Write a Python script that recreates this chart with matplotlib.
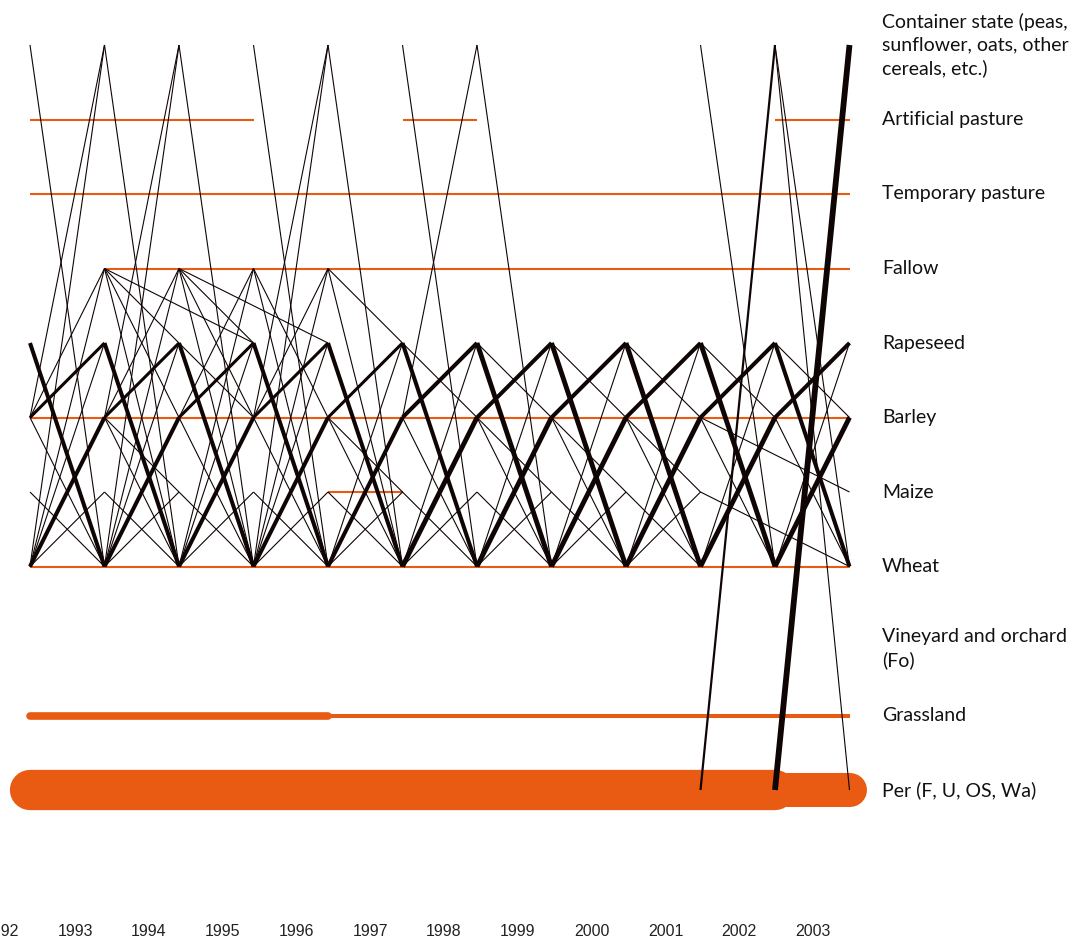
import matplotlib
matplotlib.use("Agg")
import matplotlib.pyplot as plt

# crop states, bottom to top
STATES = ["Per", "Gra", "Vin", "Whe", "Mai", "Bar", "Rap", "Fal", "Tem", "Art", "Con"]
STATE_LABELS = ["Per (F, U, OS, Wa)", "Grassland", "Vineyard and orchard\n(Fo)", "Wheat",
                "Maize", "Barley", "Rapeseed", "Fallow", "Temporary pasture",
                "Artificial pasture",
                "Container state (peas,\nsunflower, oats, other\ncereals, etc.)"]
YEARS = list(range(1992, 2004))

# state kept from one year to another (orange)
STAYS = [("Art", 1992, 1995, 1), ("Art", 1997, 1998, 1), ("Art", 2002, 2003, 1),
         ("Tem", 1992, 2003, 1), ("Fal", 1993, 2003, 1), ("Bar", 1992, 2003, 1),
         ("Mai", 1996, 1997, 1), ("Whe", 1992, 2003, 1),
         ("Gra", 1992, 1996, 3), ("Gra", 1996, 2003, 2),
         ("Per", 1992, 2002, 5), ("Per", 2002, 2003, 4)]

# changes of state (black): year from, state from, year to, state to, weight
FLOWS = [
    # 1992 -> 1993
    (1992, "Whe", 1993, "Bar", 4), (1992, "Bar", 1993, "Rap", 3), (1992, "Rap", 1993, "Whe", 4),
    (1992, "Bar", 1993, "Whe", 1), (1992, "Mai", 1993, "Whe", 1), (1992, "Whe", 1993, "Mai", 1),
    (1992, "Whe", 1993, "Rap", 1), (1992, "Whe", 1993, "Fal", 1), (1992, "Bar", 1993, "Fal", 1),
    (1992, "Whe", 1993, "Con", 1), (1992, "Bar", 1993, "Con", 1), (1992, "Con", 1993, "Whe", 1),
    # 1993 -> 1994
    (1993, "Whe", 1994, "Bar", 4), (1993, "Bar", 1994, "Rap", 3), (1993, "Rap", 1994, "Whe", 4),
    (1993, "Bar", 1994, "Whe", 1), (1993, "Mai", 1994, "Whe", 1), (1993, "Whe", 1994, "Mai", 1),
    (1993, "Whe", 1994, "Rap", 1), (1993, "Whe", 1994, "Fal", 1), (1993, "Bar", 1994, "Fal", 1),
    (1993, "Fal", 1994, "Whe", 1), (1993, "Fal", 1994, "Bar", 1), (1993, "Fal", 1994, "Rap", 1),
    (1993, "Whe", 1994, "Con", 1), (1993, "Bar", 1994, "Con", 1), (1993, "Con", 1994, "Whe", 1),
    (1993, "Bar", 1994, "Mai", 1), (1993, "Fal", 1995, "Rap", 1),
    # 1994 -> 1995
    (1994, "Whe", 1995, "Bar", 4), (1994, "Bar", 1995, "Rap", 3), (1994, "Rap", 1995, "Whe", 4),
    (1994, "Bar", 1995, "Whe", 1), (1994, "Mai", 1995, "Whe", 1), (1994, "Whe", 1995, "Mai", 1),
    (1994, "Whe", 1995, "Rap", 1), (1994, "Whe", 1995, "Fal", 1), (1994, "Bar", 1995, "Fal", 1),
    (1994, "Fal", 1995, "Whe", 1), (1994, "Fal", 1995, "Bar", 1), (1994, "Fal", 1995, "Rap", 1),
    (1994, "Con", 1995, "Whe", 1), (1994, "Rap", 1995, "Bar", 1), (1994, "Fal", 1996, "Rap", 1),
    # 1995 -> 1996
    (1995, "Whe", 1996, "Bar", 4), (1995, "Bar", 1996, "Rap", 3), (1995, "Rap", 1996, "Whe", 4),
    (1995, "Bar", 1996, "Whe", 1), (1995, "Mai", 1996, "Whe", 1), (1995, "Whe", 1996, "Mai", 1),
    (1995, "Whe", 1996, "Rap", 1), (1995, "Bar", 1996, "Fal", 1), (1995, "Whe", 1996, "Fal", 1),
    (1995, "Fal", 1996, "Whe", 1), (1995, "Fal", 1996, "Bar", 1),
    (1995, "Whe", 1996, "Con", 1), (1995, "Bar", 1996, "Con", 1), (1995, "Con", 1996, "Whe", 1),
    # 1996 -> 1997
    (1996, "Whe", 1997, "Bar", 4), (1996, "Bar", 1997, "Rap", 3), (1996, "Rap", 1997, "Whe", 4),
    (1996, "Bar", 1997, "Whe", 1), (1996, "Mai", 1997, "Whe", 1), (1996, "Whe", 1997, "Mai", 1),
    (1996, "Whe", 1997, "Rap", 1), (1996, "Fal", 1997, "Whe", 1), (1996, "Fal", 1997, "Rap", 1),
    (1996, "Con", 1997, "Whe", 1), (1996, "Bar", 1997, "Mai", 1),
    # 1997 -> 1998
    (1997, "Whe", 1998, "Bar", 5), (1997, "Bar", 1998, "Rap", 4), (1997, "Rap", 1998, "Whe", 4),
    (1997, "Bar", 1998, "Whe", 1), (1997, "Mai", 1998, "Whe", 1), (1997, "Whe", 1998, "Mai", 1),
    (1997, "Whe", 1998, "Rap", 1), (1997, "Bar", 1998, "Con", 1), (1997, "Con", 1998, "Whe", 1),
    (1997, "Rap", 1998, "Bar", 1),
    # 1998 -> 1999
    (1998, "Whe", 1999, "Bar", 5), (1998, "Bar", 1999, "Rap", 4), (1998, "Rap", 1999, "Whe", 5),
    (1998, "Bar", 1999, "Whe", 1), (1998, "Mai", 1999, "Whe", 1), (1998, "Whe", 1999, "Mai", 1),
    (1998, "Whe", 1999, "Rap", 1), (1998, "Con", 1999, "Whe", 1), (1998, "Rap", 1999, "Bar", 1),
    (1998, "Bar", 1999, "Mai", 1),
    # 1999 -> 2000
    (1999, "Whe", 2000, "Bar", 5), (1999, "Bar", 2000, "Rap", 4), (1999, "Rap", 2000, "Whe", 5),
    (1999, "Bar", 2000, "Whe", 1), (1999, "Mai", 2000, "Whe", 1), (1999, "Whe", 2000, "Mai", 1),
    (1999, "Whe", 2000, "Rap", 1), (1999, "Rap", 2000, "Bar", 1), (1999, "Bar", 2000, "Mai", 1),
    # 2000 -> 2001
    (2000, "Whe", 2001, "Bar", 5), (2000, "Bar", 2001, "Rap", 4), (2000, "Rap", 2001, "Whe", 5),
    (2000, "Bar", 2001, "Whe", 1), (2000, "Mai", 2001, "Whe", 1), (2000, "Whe", 2001, "Mai", 1),
    (2000, "Whe", 2001, "Rap", 1), (2000, "Rap", 2001, "Bar", 1), (2000, "Bar", 2001, "Mai", 1),
    # 2001 -> 2002
    (2001, "Whe", 2002, "Bar", 5), (2001, "Bar", 2002, "Rap", 4), (2001, "Rap", 2002, "Whe", 5),
    (2001, "Bar", 2002, "Whe", 1), (2001, "Whe", 2002, "Rap", 1), (2001, "Rap", 2002, "Bar", 1),
    (2001, "Con", 2002, "Whe", 1), (2001, "Per", 2002, "Con", 2),
    (2001, "Bar", 2003, "Mai", 1), (2001, "Mai", 2003, "Whe", 1),
    # 2002 -> 2003
    (2002, "Whe", 2003, "Bar", 5), (2002, "Bar", 2003, "Rap", 4), (2002, "Rap", 2003, "Whe", 4),
    (2002, "Bar", 2003, "Whe", 1), (2002, "Whe", 2003, "Rap", 1), (2002, "Rap", 2003, "Bar", 1),
    (2002, "Con", 2003, "Per", 1), (2002, "Con", 2003, "Whe", 1), (2002, "Per", 2003, "Con", 6),
]

BLACK_LW = {1: 0.8, 2: 1.6, 3: 2.2, 4: 2.9, 5: 3.5, 6: 4.2}
ORANGE_LW = {1: 1.5, 2: 2.9, 3: 5.5, 4: 24.5, 5: 29.0}
ORANGE = "#E95A12"

lvl = {s: i for i, s in enumerate(STATES)}

fig = plt.figure(figsize=(10.79, 9.43), dpi=100)
ax = fig.add_axes([0, 0, 1, 1])
ax.set_xlim(1992 - 30 / 74.5, 1992 + 1049 / 74.5)
ax.set_ylim((790 - 943) / 74.5, 790 / 74.5)
ax.axis("off")

for s, y0, y1, w in STAYS:
    ax.plot([y0, y1], [lvl[s], lvl[s]], color=ORANGE, lw=ORANGE_LW[w],
            solid_capstyle="round" if w >= 3 else "butt", zorder=1 + (w == 5))

for y0, s0, y1, s1, w in FLOWS:
    ax.plot([y0, y1], [lvl[s0], lvl[s1]], color="#100505", lw=BLACK_LW[w],
            solid_capstyle="butt", zorder=3 + w / 10)

for i, lab in enumerate(STATE_LABELS):
    ax.text(2003.436, i + (-0.1 if i == 2 else 0), lab, ha="left", va="center",
            fontsize=14, family="Lato", color="#111111", linespacing=1.38)

for i, yr in enumerate(YEARS):
    ax.text(yr - 0.386 - 0.0094 * i, (790 - 932) / 74.5, str(yr), ha="center",
            va="center", fontsize=11.5, family="Liberation Sans", color="#222222")

fig.savefig("out.png", dpi=100)
